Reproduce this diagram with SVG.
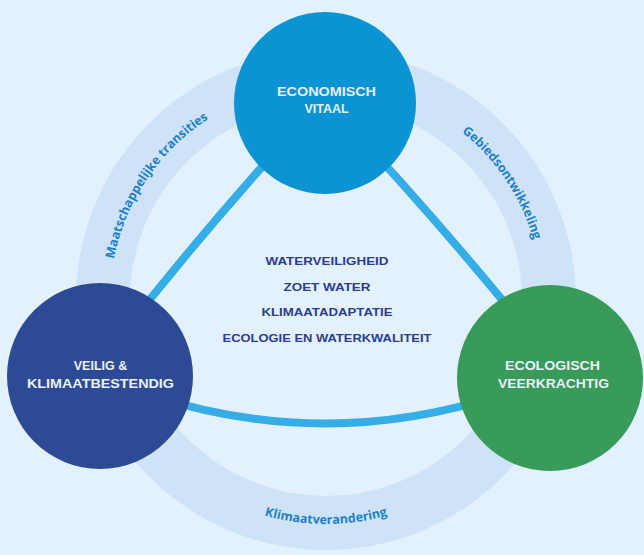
<svg xmlns="http://www.w3.org/2000/svg" width="644" height="555" viewBox="0 0 644 555">
  <defs>
    <style>
      .bg { fill: #e3f0fd; }
      .band { fill: none; stroke: #cee3f8; stroke-width: 54; }
      .link { fill: none; stroke: #35ade7; stroke-width: 8; stroke-linecap: round; }
      .node-label { font-family: "Liberation Sans", Arial, sans-serif; font-weight: bold; font-size: 12.5px; fill: #e8f0fa; text-anchor: middle; }
      .theme { font-family: "Liberation Sans", Arial, sans-serif; font-weight: bold; font-size: 10.5px; fill: #2a3d8f; text-anchor: middle; }
      .ring-label { font-family: "Open Sans", "Liberation Sans", sans-serif; font-weight: 700; font-size: 12.5px; fill: #1d80cb; }
    </style>
    <path id="arc-left" d="M 131.9,394.7 A 216 216 0 0 1 341.1,84.5"/>
    <path id="arc-right" d="M 312.4,84.4 A 216 216 0 0 1 519.5,396"/>
    <path id="arc-bottom" d="M 132,412 A 224 224 0 0 0 520,412"/>
  </defs>

  <rect class="bg" x="0" y="0" width="644" height="555"/>

  <g id="ring">
    <circle class="band" cx="326" cy="300" r="223"/>
    <text class="ring-label"><textPath href="#arc-left" startOffset="50%" text-anchor="middle">Maatschappelijke transities</textPath></text>
    <text class="ring-label"><textPath href="#arc-right" startOffset="50%" text-anchor="middle">Gebiedsontwikkeling</textPath></text>
    <text class="ring-label"><textPath href="#arc-bottom" startOffset="50%" text-anchor="middle">Klimaatverandering</textPath></text>
  </g>

  <g id="connectors">
    <path class="link" d="M 317,106 Q 195.4,237.8 86,380"/>
    <path class="link" d="M 331,106 Q 457,240 571,385"/>
    <path class="link" d="M 150,395 Q 325,452 500,395"/>
  </g>

  <g id="themes">
    <text class="theme" x="327" y="265" textLength="123" lengthAdjust="spacingAndGlyphs">WATERVEILIGHEID</text>
    <text class="theme" x="327" y="291" textLength="87" lengthAdjust="spacingAndGlyphs">ZOET WATER</text>
    <text class="theme" x="327" y="316" textLength="131" lengthAdjust="spacingAndGlyphs">KLIMAATADAPTATIE</text>
    <text class="theme" x="327" y="342" textLength="209" lengthAdjust="spacingAndGlyphs">ECOLOGIE EN WATERKWALITEIT</text>
  </g>

  <g id="node-economisch">
    <circle cx="325" cy="103" r="91" fill="#0c93d3"/>
    <text class="node-label" x="326.5" y="95.5" textLength="99" lengthAdjust="spacingAndGlyphs">ECONOMISCH</text>
    <text class="node-label" x="326.5" y="112.5">VITAAL</text>
  </g>

  <g id="node-veilig">
    <circle cx="100" cy="376" r="93" fill="#2d4b94"/>
    <text class="node-label" x="100.5" y="369.5">VEILIG &amp;</text>
    <text class="node-label" x="100.5" y="387.5" textLength="147" lengthAdjust="spacingAndGlyphs">KLIMAATBESTENDIG</text>
  </g>

  <g id="node-ecologisch">
    <circle cx="550" cy="378" r="93" fill="#389b59"/>
    <text class="node-label" x="552.5" y="369.5" textLength="95" lengthAdjust="spacingAndGlyphs">ECOLOGISCH</text>
    <text class="node-label" x="553.5" y="387.5" textLength="111" lengthAdjust="spacingAndGlyphs">VEERKRACHTIG</text>
  </g>
</svg>
